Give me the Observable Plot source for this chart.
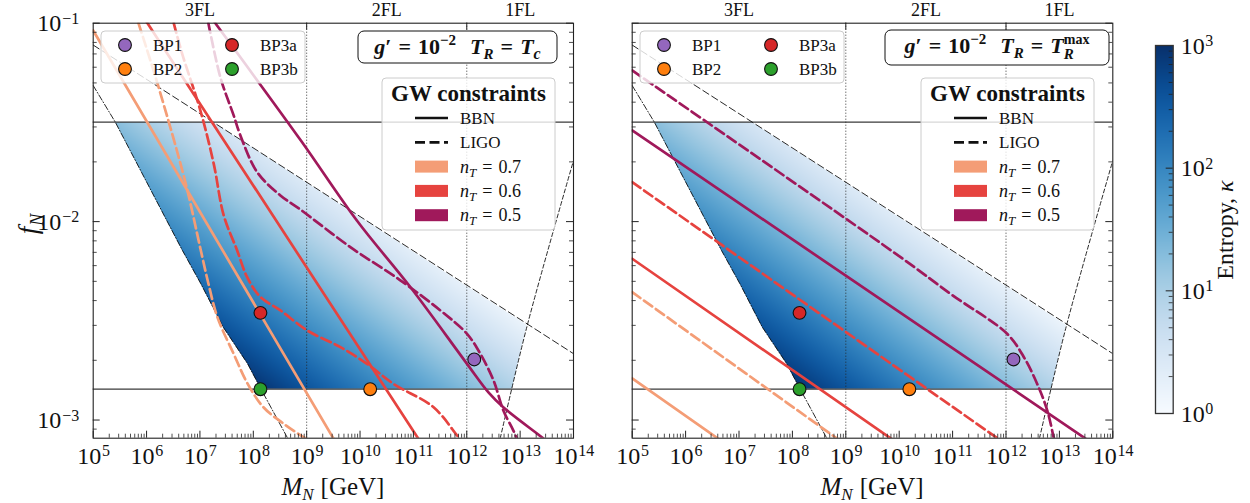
<!DOCTYPE html>
<html>
<head>
<meta charset="utf-8">
<script src="https://cdn.jsdelivr.net/npm/d3@7"></script>
<script src="https://cdn.jsdelivr.net/npm/@observablehq/plot@0.6"></script>
<style>
  html,body{margin:0;padding:0;background:#fff;}
  #wrap{position:relative;width:1250px;height:503px;overflow:hidden;background:#fff;}
  #overlay{position:absolute;left:0;top:0;pointer-events:none;}
</style>
</head>
<body>
<div id="wrap"></div>
<script>
// ---------------- data ----------------
const xTickExps = [5, 6, 7, 8, 9, 10, 11, 12, 13, 14];
const yTickExps = [-1, -2, -3];
const cbarTickExps = [0, 1, 2, 3];
const xDomain = [1e5, 1e14];
const yDomain = [8.1e-4, 0.1];
const flNames = ["3FL", "2FL", "1FL"];
const flEdges = [1e5, 1e9, 1e12, 1e14];
const fHorizontal = [0.0317, 1.43e-3];

const bpNames = ["BP1", "BP2", "BP3a", "BP3b"];
const bpColors = ["#9467bd", "#ff7f0e", "#d62728", "#2ca02c"];
const bpM = [1.38e12, 1.55e10, 1.36e8, 1.36e8];
const bpF = [2.02e-3, 1.43e-3, 3.47e-3, 1.43e-3];

const nTValues = ["0.7", "0.6", "0.5"];
const nTColors = ["#f49d76", "#e6433f", "#a0195b"];

// entropy read at the corners of the allowed region (M_N, f_N, kappa)
const heatM = [2.6e5, 1.73e7, 1.36e13, 7.1e12, 1.4e8, 7.76e7, 2.75e7, 1.03e7, 4.7e6];
const heatF = [0.0317, 0.0317, 3.0e-3, 1.43e-3, 1.43e-3, 1.93e-3, 2.93e-3, 4.89e-3, 7.16e-3];
const heatKappa = [18.6, 3.2, 1.5, 9.5, 890, 608, 393, 203, 126];

// allowed region outline
const regionM = [2.6e5, 1.73e7, 1.36e13, 7.1e12, 1.4e8, 7.76e7, 2.75e7, 1.03e7, 4.7e6];
const regionF = [0.0317, 0.0317, 3.0e-3, 1.43e-3, 1.43e-3, 1.93e-3, 2.93e-3, 4.89e-3, 7.16e-3];

// black boundary curves
const boundaryDashDot = [[1e5, 0.0485], [2.6e5, 0.0317], [4.7e6, 7.16e-3], [1.03e7, 4.89e-3], [2.75e7, 2.93e-3], [7.76e7, 1.93e-3], [1.4e8, 1.43e-3], [4.4e8, 8.1e-4]];
const boundaryUpper = [[1e5, 0.0776], [1e14, 2.16e-3]];
const boundarySteep = [[4.24e12, 8.1e-4], [1.36e13, 3.0e-3], [1e14, 0.0203]];

// left panel: T_R = T_c
const tcBBN07 = [[1e5, 0.0919], [1e10, 4.78e-4]];
const tcBBN06 = [[6.3e5, 0.123], [3.16e11, 5.47e-4]];
const tcBBN05 = [[1.23e7, 0.1186], [1.95e7, 0.1], [7.73e8, 0.0257], [8.79e9, 0.0101], [8.75e10, 4.68e-3], [1.01e12, 1.92e-3], [2.6e12, 1.37e-3], [4.83e12, 1.16e-3], [2.7e13, 8.1e-4], [5e13, 7.1e-4]];
const tcLIGO07 = [[7.05e5, 0.1], [1.6e6, 0.0497], [5.35e6, 0.01574], [1.02e7, 7.32e-3], [1.44e7, 4.88e-3], [2.13e7, 3.29e-3], [4.24e7, 2.17e-3], [7.76e7, 1.53e-3], [1.55e8, 1.16e-3], [3.67e8, 9.6e-4], [8.7e8, 8.2e-4], [1.1e9, 7.9e-4]];
const tcLIGO06 = [[3.23e6, 0.1], [4.65e6, 0.0701], [1.02e7, 0.0363], [1.81e7, 0.0196], [2.79e7, 0.01075], [4.98e7, 7.16e-3], [7.66e7, 5.25e-3], [1.36e8, 4.17e-3], [3.22e8, 3.57e-3], [1.02e9, 2.83e-3], [4.28e9, 2.33e-3], [1.35e10, 1.92e-3], [4.26e10, 1.52e-3], [2.39e11, 1.16e-3], [6.55e11, 8.38e-4], [7.6e11, 8.0e-4]];
const tcLIGO05 = [[1.44e7, 0.1], [2.42e7, 0.0533], [4.3e7, 0.0342], [5.73e7, 0.0272], [1.18e8, 0.01776], [3.22e8, 0.01355], [7.64e8, 0.0115], [6.58e9, 7.44e-3], [5.69e10, 5.06e-3], [3.19e11, 3.57e-3], [1.01e12, 2.72e-3], [1.79e12, 2.16e-3], [3.18e12, 1.58e-3], [4.83e12, 1.12e-3], [7.43e12, 8.87e-4], [8.83e12, 8.0e-4]];

// right panel: T_R = T_R^max
const trBBN07 = [[1e5, 1.62e-3], [1e7, 6.8e-4]];
const trBBN06 = [[1e5, 6.5e-3], [1e10, 7.55e-4]];
const trBBN05 = [[1e5, 0.0288], [1e14, 6.5e-4]];
const trLIGO07 = [[1e5, 4.41e-3], [1e9, 7.5e-4]];
const trLIGO06 = [[1e5, 0.0158], [1e12, 7.55e-4]];
const trLIGO05 = [[1e5, 0.0578], [1.06e10, 6.62e-3], [1e11, 4.25e-3], [1.05e12, 2.72e-3], [2.15e12, 2.08e-3], [3.84e12, 1.52e-3], [5.91e12, 1.12e-3], [7.86e12, 8.1e-4], [8.3e12, 7.6e-4]];

// ---------------- drawing ----------------
const FONT = "'Liberation Serif', 'Times New Roman', serif";
const INK = "#111";
const H = 503, MT = 22.7, MB = 65.3;

const tcCurves = [
  {pts: tcBBN07, c: 0}, {pts: tcLIGO07, c: 0, dash: true, smooth: true},
  {pts: tcBBN06, c: 1}, {pts: tcLIGO06, c: 1, dash: true, smooth: true},
  {pts: tcLIGO05, c: 2, dash: true, smooth: true}, {pts: tcBBN05, c: 2, smooth: true}
];
const trCurves = [
  {pts: trBBN07, c: 0}, {pts: trLIGO07, c: 0, dash: true},
  {pts: trBBN06, c: 1}, {pts: trLIGO06, c: 1, dash: true},
  {pts: trLIGO05, c: 2, dash: true, smooth: true}, {pts: trBBN05, c: 2}
];

const majorX = xTickExps.map(e => 10 ** e);
const minorX = [];
for (const e of xTickExps.slice(0, -1)) for (let k = 2; k < 10; k++) minorX.push(k * 10 ** e);
const majorY = yTickExps.map(e => 10 ** e);
const minorY = [];
for (let e = -4; e <= -2; e++) for (let k = 2; k < 10; k++) { const v = k * 10 ** e; if (v >= yDomain[0] && v <= yDomain[1]) minorY.push(v); }
const heatRows = heatM.map((m, i) => ({M: m, f: heatF[i], lk: Math.log10(heatKappa[i])}));
const colorOpts = {type: "linear", domain: [0, 3], scheme: "blues"};

function panel({curves, width, marginLeft, marginRight, yLabels, clipId, left}) {
  const frameH = H - MT - MB;
  const frameW = width - marginLeft - marginRight;
  const pt = {x: d => d[0], y: d => d[1]};
  const marks = [
    Plot.raster(heatRows, {x: "M", y: "f", fill: "lk", interpolate: "barycentric",
      x1: xDomain[0], x2: xDomain[1], y1: yDomain[0], y2: yDomain[1]}),
    Plot.ruleY(fHorizontal, {stroke: "#3a3a3a", strokeWidth: 1.2}),
    Plot.ruleX(flEdges.slice(1, -1), {stroke: "#222", strokeWidth: 0.9, strokeDasharray: "1,2"}),
    Plot.line(boundaryDashDot, {...pt, stroke: INK, strokeWidth: 0.9, strokeDasharray: "6,2,1,2", clip: true}),
    Plot.line(boundaryUpper, {...pt, stroke: INK, strokeWidth: 0.9, strokeDasharray: "7,3.5", clip: true}),
    Plot.line(boundarySteep, {...pt, stroke: INK, strokeWidth: 0.9, strokeDasharray: "4,2.5", curve: "catmull-rom", clip: true}),
  ];
  for (const cv of curves) {
    const o = {...pt, stroke: nTColors[cv.c], strokeWidth: 2.7, clip: true, curve: cv.smooth ? "catmull-rom" : "linear"};
    if (cv.dash) o.strokeDasharray = "10,4.5";
    marks.push(Plot.line(cv.pts, o));
  }
  bpNames.forEach((n, i) => marks.push(Plot.dot([i], {x: j => bpM[j], y: j => bpF[j], r: 6.4, fill: bpColors[i], stroke: INK, strokeWidth: 1.1})));
  const tk = {stroke: "#222", strokeWidth: 1};
  marks.push(
    Plot.ruleX(majorX, {...tk, insetTop: frameH - 7}),
    Plot.ruleX(minorX, {...tk, strokeWidth: 0.8, insetTop: frameH - 4}),
    Plot.ruleX(flEdges.slice(1, -1), {...tk, insetBottom: frameH - 7}),
    Plot.ruleY(majorY, {...tk, insetRight: frameW - 7}),
    Plot.ruleY(minorY, {...tk, strokeWidth: 0.8, insetRight: frameW - 4}),
    Plot.ruleY(majorY, {...tk, insetLeft: frameW - 7}),
    Plot.ruleY(minorY, {...tk, strokeWidth: 0.8, insetLeft: frameW - 4}),
    Plot.frame({stroke: "#222", strokeWidth: 1.1}),
    Plot.text(flNames, {x: (d, i) => Math.sqrt(flEdges[i] * flEdges[i + 1]), frameAnchor: "top", dy: -7, lineAnchor: "bottom", fontSize: 18, fontFamily: FONT, fill: INK})
  );
  const lab = {frameAnchor: "bottom", lineAnchor: "bottom", fontFamily: FONT, fill: INK};
  const one = xTickExps.filter(e => e < 10), two = xTickExps.filter(e => e >= 10);
  marks.push(
    Plot.text(one, {...lab, x: e => 10 ** e, text: () => "10", textAnchor: "end", dx: 8, dy: 25.5, fontSize: 24}),
    Plot.text(one, {...lab, x: e => 10 ** e, text: e => String(e), textAnchor: "start", dx: 8.8, dy: 17.5, fontSize: 16}),
    Plot.text(two, {...lab, x: e => 10 ** e, text: () => "10", textAnchor: "end", dx: 4, dy: 25.5, fontSize: 24}),
    Plot.text(two, {...lab, x: e => 10 ** e, text: e => String(e), textAnchor: "start", dx: 4.8, dy: 17.5, fontSize: 16})
  );
  if (yLabels) {
    const yl = {frameAnchor: "left", lineAnchor: "bottom", fontFamily: FONT, fill: INK};
    marks.push(
      Plot.text(yTickExps, {...yl, y: e => 10 ** e, text: () => "10", textAnchor: "end", dx: -32, dy: 8, fontSize: 24}),
      Plot.text(yTickExps, {...yl, y: e => 10 ** e, text: e => "\u2212" + (-e), textAnchor: "start", dx: -31, dy: 0.5, fontSize: 16})
    );
  }
  const svg = Plot.plot({
    width, height: H, marginLeft, marginRight, marginTop: MT, marginBottom: MB,
    x: {type: "log", domain: xDomain, axis: null},
    y: {type: "log", domain: yDomain, axis: null},
    color: colorOpts,
    style: {background: "transparent", overflow: "visible"},
    marks
  });
  // clip the entropy raster to the allowed region, through the plot's own scales
  const xs = svg.scale("x"), ys = svg.scale("y");
  const poly = regionM.map((m, i) => [xs.apply(m), ys.apply(regionF[i])].join(",")).join(" ");
  const s = d3.select(svg);
  s.insert("defs", ":first-child").append("clipPath").attr("id", clipId)
    .attr("clipPathUnits", "userSpaceOnUse").append("polygon").attr("points", poly);
  const img = svg.querySelector("image");
  if (img) {
    const parent = img.parentNode;
    const wrapG = document.createElementNS("http://www.w3.org/2000/svg", "g");
    parent.insertBefore(wrapG, img);
    wrapG.appendChild(img);
    wrapG.setAttribute("clip-path", `url(#${clipId})`);
    const t = parent.getAttribute("transform");
    if (t) {
      const m = /translate\(([-\d.e]+)[ ,]+([-\d.e]+)\)/.exec(t);
      if (m) s.select(`#${clipId} polygon`).attr("transform", `translate(${-m[1]},${-m[2]})`);
    }
  }
  svg.style.position = "absolute";
  svg.style.left = left + "px";
  svg.style.top = "0px";
  return svg;
}

const wrap = document.getElementById("wrap");
wrap.appendChild(panel({curves: tcCurves, width: 600, marginLeft: 92.7, marginRight: 27, yLabels: true, clipId: "clipL", left: 0}));
wrap.appendChild(panel({curves: trCurves, width: 539, marginLeft: 31.7, marginRight: 26.7, yLabels: false, clipId: "clipR", left: 600}));

// colour bar
const cbW = 110 - 15 - 77.3;
const cbMinor = [];
for (let n = 0; n < 3; n++) for (let k = 2; k < 10; k++) cbMinor.push(n + Math.log10(k));
const cbar = Plot.plot({
  width: 110, height: H, marginLeft: 15, marginRight: 77.3, marginTop: 45, marginBottom: 90,
  x: {domain: [0, 1], axis: null}, y: {domain: [0, 3], axis: null},
  color: colorOpts,
  style: {background: "transparent", overflow: "visible"},
  marks: [
    Plot.raster({fill: (x, y) => y, x1: 0, x2: 1, y1: 0, y2: 3}),
    Plot.ruleY(cbarTickExps, {stroke: "#222", insetLeft: cbW - 7}),
    Plot.ruleY(cbMinor, {stroke: "#222", strokeWidth: 0.8, insetLeft: cbW - 4}),
    Plot.frame({stroke: "#333", strokeWidth: 1.3}),
    Plot.text(cbarTickExps, {y: d => d, frameAnchor: "right", lineAnchor: "bottom", text: () => "10", textAnchor: "start", dx: 7.5, dy: 8, fontSize: 24, fontFamily: FONT, fill: INK}),
    Plot.text(cbarTickExps, {y: d => d, frameAnchor: "right", lineAnchor: "bottom", text: d => String(d), textAnchor: "start", dx: 32, dy: 0.5, fontSize: 16, fontFamily: FONT, fill: INK})
  ]
});
cbar.style.position = "absolute"; cbar.style.left = "1140px"; cbar.style.top = "0px";
wrap.appendChild(cbar);

// ---------------- overlay: labels, legends ----------------
const ov = d3.select(wrap).append("svg").attr("id", "overlay").attr("width", 1250).attr("height", H);

function addT(g, s, cx) {
  return g.append("text").attr("x", cx + (s.dx || 0)).attr("y", s.dy || 0)
    .attr("font-family", FONT).attr("font-size", s.size || 17)
    .attr("font-style", s.i ? "italic" : "normal").attr("font-weight", s.b ? "bold" : "normal")
    .attr("fill", INK).text(s.t);
}
function rich(parent, segs, {x = 0, y = 0, anchor = "start", rotate = 0} = {}) {
  const outer = parent.append("g").attr("transform", `translate(${x},${y}) rotate(${rotate})`);
  const g = outer.append("g");
  let cx = 0;
  for (const s of segs) {
    if (s.stack) {
      let w = 0;
      for (const p of s.stack) w = Math.max(w, addT(g, p, cx).node().getComputedTextLength());
      cx += w + (s.gap || 0);
    } else {
      cx += addT(g, s, cx).node().getComputedTextLength() + (s.gap || 0);
    }
  }
  const shift = anchor === "middle" ? -cx / 2 : anchor === "end" ? -cx : 0;
  g.attr("transform", `translate(${shift},0)`);
}

// axis titles
rich(ov, [{t: "f", i: 1, size: 27, gap: 1}, {t: "N", i: 1, size: 18, dy: 6}], {x: 37, y: 224, anchor: "middle", rotate: -90});
for (const cx of [332.9, 872]) {
  rich(ov, [{t: "M", i: 1, size: 25}, {t: "N", i: 1, size: 17, dy: 5, gap: 7}, {t: "[GeV]", size: 25}], {x: cx, y: 495, anchor: "middle"});
}
rich(ov, [{t: "Entropy,", size: 24, gap: 6}, {t: "\u03ba", i: 1, size: 24}], {x: 1233, y: 230, anchor: "middle", rotate: -90});

// panel annotations
const titleSegsL = [{t: "g", i: 1, b: 1, size: 22}, {t: "\u2032", b: 1, size: 22, gap: 7}, {t: "=", b: 1, size: 22, gap: 7},
  {t: "10", b: 1, size: 22}, {t: "\u22122", b: 1, size: 15, dy: -9, gap: 14}, {t: "T", i: 1, b: 1, size: 22},
  {t: "R", i: 1, b: 1, size: 15, dy: 5, gap: 7}, {t: "=", b: 1, size: 22, gap: 7}, {t: "T", i: 1, b: 1, size: 22},
  {t: "c", i: 1, b: 1, size: 16, dy: 5}];
const titleSegsR = titleSegsL.slice(0, 9).concat([{stack: [{t: "max", b: 1, size: 14, dy: -9}, {t: "R", i: 1, b: 1, size: 15, dy: 6}]}]);

function annotate(ox, titleBox, titleSegs) {
  ov.append("rect").attr("x", titleBox[0]).attr("y", titleBox[1]).attr("width", titleBox[2]).attr("height", titleBox[3])
    .attr("rx", 6).attr("fill", "#fff").attr("stroke", INK).attr("stroke-width", 1);
  rich(ov, titleSegs, {x: titleBox[0] + titleBox[2] / 2, y: titleBox[1] + 23, anchor: "middle"});
  ov.append("rect").attr("x", 101 + ox).attr("y", 31).attr("width", 204).attr("height", 52).attr("rx", 4)
    .attr("fill", "#fff").attr("fill-opacity", 0.8).attr("stroke", "#ccc");
  bpNames.forEach((n, i) => {
    const col = Math.floor(i / 2), row = i % 2;
    const cy = 45 + row * 24;
    ov.append("circle").attr("cx", 125 + ox + col * 107).attr("cy", cy).attr("r", 6.4)
      .attr("fill", bpColors[i]).attr("stroke", INK).attr("stroke-width", 1.1);
    rich(ov, [{t: n, size: 17}], {x: 153 + ox + col * 107, y: cy + 6});
  });
  ov.append("rect").attr("x", 382 + ox).attr("y", 78).attr("width", 173).attr("height", 152).attr("rx", 4)
    .attr("fill", "#fff").attr("fill-opacity", 0.8).attr("stroke", "#ccc");
  rich(ov, [{t: "GW constraints", b: 1, size: 23}], {x: 468.5 + ox, y: 101, anchor: "middle"});
  const rowY = i => 118 + i * 24.3;
  ov.append("line").attr("x1", 415 + ox).attr("x2", 448 + ox).attr("y1", rowY(0)).attr("y2", rowY(0)).attr("stroke", INK).attr("stroke-width", 2.7);
  ov.append("line").attr("x1", 415 + ox).attr("x2", 448 + ox).attr("y1", rowY(1)).attr("y2", rowY(1)).attr("stroke", INK).attr("stroke-width", 2.7).attr("stroke-dasharray", "10,4.5");
  rich(ov, [{t: "BBN", size: 17}], {x: 460 + ox, y: rowY(0) + 6});
  rich(ov, [{t: "LIGO", size: 17}], {x: 460 + ox, y: rowY(1) + 6});
  nTValues.forEach((v, i) => {
    const cy = rowY(i + 2);
    ov.append("rect").attr("x", 415 + ox).attr("y", cy - 6).attr("width", 33).attr("height", 12).attr("fill", nTColors[i]);
    rich(ov, [{t: "n", i: 1, size: 18}, {t: "T", i: 1, size: 13, dy: 4, gap: 6}, {t: "=", size: 18, gap: 6}, {t: v, size: 18}], {x: 460 + ox, y: cy + 6});
  });
}
annotate(0, [358, 31, 199, 32], titleSegsL);
annotate(539, [885, 30, 224, 35], titleSegsR);
</script>
</body>
</html>
